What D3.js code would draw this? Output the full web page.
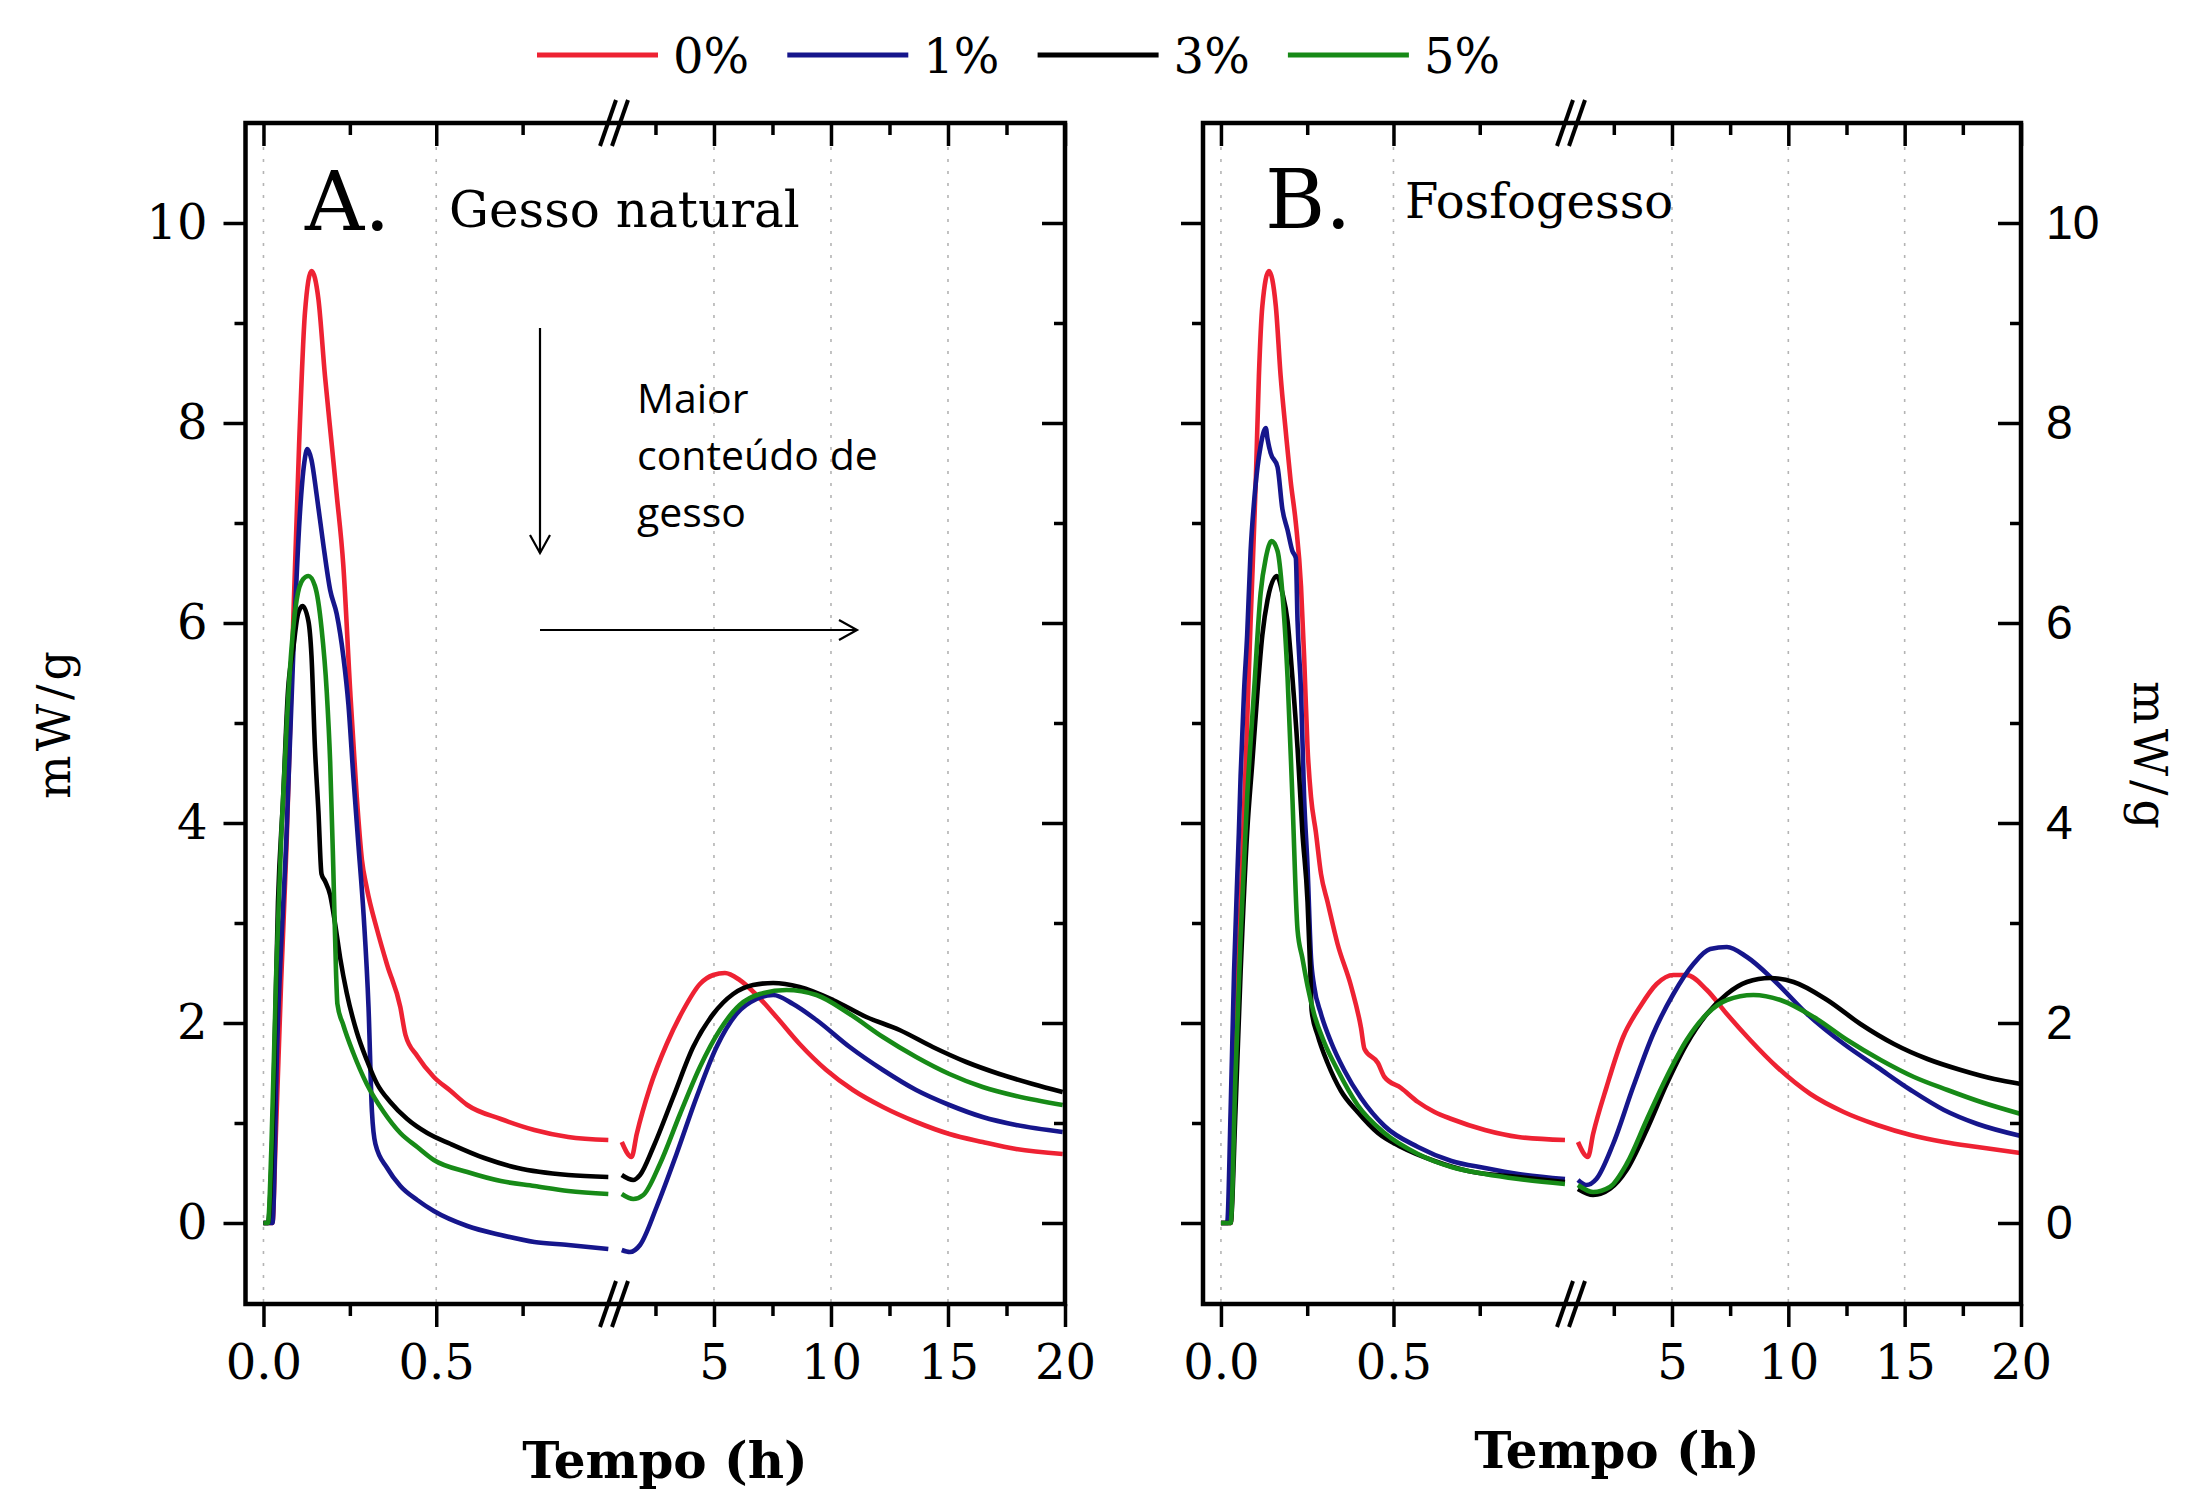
<!DOCTYPE html>
<html>
<head>
<meta charset="utf-8">
<script src="https://cdn.jsdelivr.net/npm/d3@7"></script>
<style>
  body { margin: 0; background: #ffffff; }
  svg { display: block; background: #ffffff; }
</style>
</head>
<body>
<svg id="chart" width="2191" height="1491"></svg>
<script>
// Calorimetry curves: heat flow (mW/g) vs time (h), broken time axis

const seriesNames = ["0%", "1%", "3%", "5%"];

const majorEarly = [0, 0.5];
const minorEarly = [0.25, 0.75];
const majorLate = [5, 10, 15, 20];
const minorLate = [2.5, 7.5, 12.5, 17.5];
const yMajor = [0, 2, 4, 6, 8, 10];
const yMinor = [1, 3, 5, 7, 9];

// A. Gesso natural, first hour  [time h, mW/g]
const natEarly0 = [[0,0],[0.026,0],[0.035,0.8],[0.051,2.4],[0.067,3.8],[0.086,6.0],[0.103,7.77],[0.12,9.1],[0.139,9.52],[0.159,9.24],[0.178,8.47],[0.198,7.77],[0.212,7.28],[0.231,6.58],[0.251,5.32],[0.27,4.26],[0.285,3.63],[0.299,3.35],[0.329,2.93],[0.358,2.58],[0.396,2.16],[0.411,1.88],[0.445,1.67],[0.493,1.46],[0.542,1.32],[0.59,1.18],[0.687,1.04],[0.784,0.93],[0.882,0.86],[0.998,0.83]];
const natEarly1 = [[0,0],[0.026,0],[0.04,1.81],[0.067,3.91],[0.086,5.67],[0.105,7.07],[0.118,7.6],[0.127,7.74],[0.139,7.63],[0.154,7.28],[0.173,6.79],[0.193,6.33],[0.212,6.09],[0.231,5.67],[0.246,5.18],[0.26,4.47],[0.275,3.77],[0.29,3.07],[0.304,2.16],[0.314,1.11],[0.324,0.79],[0.358,0.55],[0.396,0.37],[0.445,0.23],[0.493,0.12],[0.59,-0.03],[0.687,-0.12],[0.784,-0.19],[0.882,-0.22],[0.998,-0.26]];
const natEarly3 = [[0,0],[0.013,0],[0.028,1.11],[0.042,3.21],[0.057,4.26],[0.071,5.32],[0.086,5.74],[0.1,6.09],[0.113,6.17],[0.13,6.02],[0.139,5.67],[0.149,4.75],[0.159,4.12],[0.168,3.49],[0.178,3.42],[0.193,3.28],[0.207,3.0],[0.222,2.65],[0.241,2.3],[0.27,1.91],[0.299,1.63],[0.329,1.39],[0.367,1.21],[0.416,1.04],[0.474,0.9],[0.542,0.79],[0.639,0.65],[0.736,0.55],[0.882,0.48],[0.998,0.46]];
const natEarly5 = [[0,0],[0.013,0],[0.023,0.76],[0.037,2.51],[0.052,3.91],[0.067,4.97],[0.081,5.74],[0.096,6.23],[0.115,6.44],[0.13,6.47],[0.149,6.37],[0.168,5.95],[0.183,5.32],[0.193,4.61],[0.202,3.56],[0.21,2.51],[0.214,2.19],[0.231,1.98],[0.26,1.7],[0.299,1.39],[0.348,1.11],[0.396,0.9],[0.445,0.76],[0.493,0.63],[0.59,0.51],[0.687,0.42],[0.784,0.37],[0.882,0.32],[0.998,0.29]];

// A. Gesso natural, 1 h to 20 h
const natLate0 = [[1.06,0.81],[1.48,0.66],[1.7,0.89],[2.27,1.36],[2.98,1.79],[3.69,2.13],[4.4,2.39],[4.97,2.48],[5.47,2.5],[6.1,2.43],[6.82,2.28],[7.67,2.06],[8.66,1.79],[9.8,1.53],[10.94,1.33],[12.22,1.16],[13.64,1.01],[15.06,0.89],[16.48,0.81],[17.91,0.74],[19.9,0.69]];
const natLate1 = [[1.06,-0.27],[1.41,-0.29],[1.84,-0.22],[2.55,0.16],[3.4,0.69],[4.26,1.26],[5.11,1.76],[5.96,2.09],[6.82,2.24],[7.53,2.28],[8.38,2.19],[9.38,2.03],[10.8,1.76],[12.22,1.53],[13.64,1.33],[15.06,1.18],[16.48,1.06],[17.91,0.98],[19.9,0.91]];
const natLate3 = [[1.06,0.48],[1.55,0.43],[1.84,0.48],[2.41,0.76],[3.26,1.26],[4.11,1.76],[4.97,2.09],[5.82,2.29],[6.67,2.38],[7.53,2.4],[8.66,2.36],[10.09,2.23],[11.51,2.06],[12.93,1.93],[14.35,1.76],[15.78,1.61],[17.2,1.49],[18.62,1.39],[19.9,1.31]];
const natLate5 = [[1.06,0.29],[1.55,0.24],[1.98,0.28],[2.69,0.59],[3.55,1.09],[4.4,1.56],[5.25,1.93],[6.1,2.18],[6.96,2.29],[8.1,2.33],[9.38,2.28],[10.8,2.09],[12.22,1.86],[13.64,1.66],[15.06,1.49],[16.48,1.36],[17.91,1.27],[19.9,1.18]];

// B. Fosfogesso, first hour
const fosEarly0 = [[0,0],[0.028,0],[0.042,1.81],[0.057,3.21],[0.072,4.61],[0.086,6.02],[0.101,7.42],[0.11,8.47],[0.12,9.17],[0.139,9.52],[0.159,9.17],[0.173,8.47],[0.188,7.91],[0.202,7.42],[0.217,7.0],[0.232,6.37],[0.241,5.67],[0.251,4.75],[0.261,4.26],[0.275,3.91],[0.29,3.49],[0.309,3.21],[0.338,2.79],[0.377,2.37],[0.406,1.95],[0.416,1.74],[0.455,1.6],[0.474,1.46],[0.522,1.35],[0.571,1.21],[0.619,1.11],[0.668,1.04],[0.765,0.93],[0.862,0.86],[0.997,0.83]];
const fosEarly1 = [[0,0],[0.018,0],[0.028,1.11],[0.038,2.51],[0.052,3.91],[0.057,4.47],[0.067,5.32],[0.076,5.88],[0.086,6.72],[0.096,7.21],[0.106,7.56],[0.115,7.77],[0.13,7.95],[0.135,7.84],[0.144,7.7],[0.164,7.56],[0.178,7.14],[0.193,6.93],[0.207,6.72],[0.217,6.65],[0.222,6.02],[0.232,5.32],[0.241,4.26],[0.251,3.56],[0.261,2.65],[0.27,2.37],[0.29,2.09],[0.319,1.81],[0.357,1.53],[0.406,1.25],[0.474,0.97],[0.571,0.76],[0.668,0.62],[0.765,0.55],[0.862,0.49],[0.997,0.44]];
const fosEarly3 = [[0,0],[0.028,0],[0.042,1.11],[0.057,2.51],[0.076,3.91],[0.091,4.61],[0.106,5.32],[0.12,5.88],[0.135,6.23],[0.162,6.47],[0.178,6.3],[0.193,6.02],[0.207,5.46],[0.222,4.75],[0.236,3.91],[0.251,3.21],[0.259,2.51],[0.263,2.12],[0.28,1.88],[0.309,1.6],[0.348,1.32],[0.396,1.11],[0.455,0.9],[0.522,0.76],[0.619,0.62],[0.716,0.52],[0.862,0.46],[0.997,0.41]];
const fosEarly5 = [[0,0],[0.028,0],[0.042,1.46],[0.057,2.86],[0.076,4.26],[0.096,5.32],[0.115,6.3],[0.13,6.65],[0.147,6.82],[0.164,6.72],[0.178,6.3],[0.193,5.46],[0.207,4.26],[0.222,2.93],[0.236,2.65],[0.251,2.37],[0.27,2.09],[0.299,1.81],[0.338,1.53],[0.396,1.18],[0.474,0.9],[0.571,0.69],[0.668,0.56],[0.765,0.49],[0.862,0.44],[0.997,0.39]];

// B. Fosfogesso, 1 h to 20 h
const fosLate0 = [[0.96,0.81],[1.39,0.66],[1.61,0.89],[2.19,1.36],[2.9,1.86],[3.62,2.16],[4.34,2.39],[5.06,2.48],[5.63,2.48],[6.5,2.33],[7.36,2.09],[8.36,1.83],[9.51,1.56],[10.95,1.29],[12.38,1.11],[13.82,0.98],[15.26,0.88],[16.69,0.81],[18.13,0.76],[20,0.7]];
const fosLate1 = [[0.96,0.43],[1.32,0.38],[1.75,0.44],[2.47,0.79],[3.33,1.36],[4.19,1.89],[5.06,2.29],[5.92,2.59],[6.64,2.74],[7.36,2.76],[8.22,2.66],[9.37,2.43],[10.81,2.09],[12.39,1.79],[13.82,1.56],[15.26,1.33],[16.69,1.13],[18.13,0.99],[20,0.87]];
const fosLate3 = [[0.96,0.34],[1.61,0.28],[2.33,0.34],[3.05,0.53],[3.91,0.93],[4.77,1.39],[5.63,1.79],[6.5,2.09],[7.36,2.29],[8.22,2.41],[9.22,2.45],[10.23,2.41],[11.67,2.23],[13.1,1.99],[14.54,1.79],[15.98,1.64],[17.41,1.53],[18.85,1.44],[20,1.39]];
const fosLate5 = [[0.96,0.38],[1.61,0.31],[2.33,0.36],[3.05,0.59],[3.91,1.03],[4.77,1.46],[5.63,1.83],[6.5,2.09],[7.36,2.23],[8.5,2.28],[9.66,2.23],[11.09,2.06],[12.53,1.83],[13.97,1.63],[15.4,1.46],[16.84,1.33],[18.28,1.21],[20,1.09]];

const colors = ["#ee2233", "#16168c", "#000000", "#178a17"];
const serif = "'DejaVu Serif', serif";

const svg = d3.select("body").select("svg#chart");

const plotTop = 123;
const plotBottom = 1304;

let yScale = d3.scaleLinear()
  .domain([-0.81, 11])
  .range([plotBottom, plotTop]);

/*
 * Draw one panel with a broken time axis
 */
let drawPanel = function(cfg) {
  const g = svg.append("g").attr("id", cfg.id);

  let xEarly = d3.scaleLinear().domain([-0.052, 1.0]).range([cfg.left, cfg.brk - 5]);
  let xLate = d3.scaleLinear().domain([0.6, 20]).range([cfg.lateStart, cfg.right]);

  // dotted vertical grid
  const grid = g.append("g").attr("class", "grid");
  let gridX = majorEarly.map(d => xEarly(d))
    .concat(majorLate.filter(d => d < 20).map(d => xLate(d)));
  grid.selectAll("line").data(gridX).join("line")
    .attr("x1", d => d).attr("x2", d => d)
    .attr("y1", plotTop).attr("y2", plotBottom)
    .attr("stroke", "#b4b4b4")
    .attr("stroke-width", 1.6)
    .attr("stroke-dasharray", "3,9");

  // curves
  const curves = g.append("g").attr("class", "curves");
  let lineEarly = d3.line().x(d => xEarly(d[0])).y(d => yScale(d[1])).curve(d3.curveMonotoneX);
  let lineLate = d3.line().x(d => xLate(d[0])).y(d => yScale(d[1])).curve(d3.curveMonotoneX);

  cfg.early.forEach(function(s, i) {
    curves.append("path").datum(s)
      .attr("d", lineEarly)
      .attr("fill", "none")
      .attr("stroke", colors[i])
      .attr("stroke-width", 4.6)
      .attr("stroke-linejoin", "round");
  });
  cfg.late.forEach(function(s, i) {
    curves.append("path").datum(s)
      .attr("d", lineLate)
      .attr("fill", "none")
      .attr("stroke", colors[i])
      .attr("stroke-width", 4.6)
      .attr("stroke-linejoin", "round");
  });

  // axes
  const axes = g.append("g").attr("class", "axes");

  let addAxis = function(axis, tx, ty) {
    let a = axes.append("g").attr("transform", translate(tx, ty)).call(axis);
    a.select(".domain").remove();
    a.selectAll(".tick line").attr("stroke", "#000").attr("stroke-width", 3.5);
    return a;
  };

  let bottomE = addAxis(d3.axisBottom(xEarly).tickValues(majorEarly).tickSize(23)
    .tickPadding(18).tickFormat(d3.format(".1f")), 0, plotBottom);
  let bottomL = addAxis(d3.axisBottom(xLate).tickValues(majorLate).tickSize(23)
    .tickPadding(18).tickFormat(d3.format("d")), 0, plotBottom);
  addAxis(d3.axisBottom(xEarly).tickValues(minorEarly).tickSize(12).tickFormat(""), 0, plotBottom);
  addAxis(d3.axisBottom(xLate).tickValues(minorLate).tickSize(12).tickFormat(""), 0, plotBottom);

  addAxis(d3.axisTop(xEarly).tickValues(majorEarly).tickSize(-23).tickFormat(""), 0, plotTop);
  addAxis(d3.axisTop(xLate).tickValues(majorLate).tickSize(-23).tickFormat(""), 0, plotTop);
  addAxis(d3.axisTop(xEarly).tickValues(minorEarly).tickSize(-12).tickFormat(""), 0, plotTop);
  addAxis(d3.axisTop(xLate).tickValues(minorLate).tickSize(-12).tickFormat(""), 0, plotTop);

  let leftA = addAxis(d3.axisLeft(yScale).tickValues(yMajor).tickSize(22).tickPadding(16)
    .tickFormat(cfg.leftLabels ? d3.format("d") : ""), cfg.left, 0);
  addAxis(d3.axisLeft(yScale).tickValues(yMinor).tickSize(11).tickFormat(""), cfg.left, 0);

  let rightA = addAxis(d3.axisRight(yScale).tickValues(yMajor).tickSize(-23).tickPadding(25)
    .tickFormat(cfg.rightLabels ? d3.format("d") : ""), cfg.right, 0);
  addAxis(d3.axisRight(yScale).tickValues(yMinor).tickSize(-11).tickFormat(""), cfg.right, 0);

  [bottomE, bottomL, leftA].forEach(function(a) {
    a.selectAll(".tick text")
      .attr("font-family", serif)
      .attr("font-size", 48)
      .attr("fill", "#000");
  });
  rightA.selectAll(".tick text")
    .attr("font-family", "'Liberation Sans', Arial, sans-serif")
    .attr("font-size", 48)
    .attr("fill", "#000");

  // frame
  axes.append("rect")
    .attr("x", cfg.left).attr("y", plotTop)
    .attr("width", cfg.right - cfg.left)
    .attr("height", plotBottom - plotTop)
    .attr("fill", "none")
    .attr("stroke", "#000")
    .attr("stroke-width", 4.5);

  // break marks
  [plotTop, plotBottom].forEach(function(yy) {
    [-12, 0].forEach(function(off) {
      axes.append("line")
        .attr("x1", cfg.brk + off - 2).attr("y1", yy + 23)
        .attr("x2", cfg.brk + off + 14).attr("y2", yy - 23)
        .attr("stroke", "#000")
        .attr("stroke-width", 4);
    });
  });

  // panel captions
  g.append("text")
    .attr("x", cfg.letterX).attr("y", cfg.letterY)
    .attr("font-family", serif).attr("font-size", 82)
    .text(cfg.letter);
  g.append("text")
    .attr("x", cfg.titleX).attr("y", cfg.titleY)
    .attr("font-family", serif).attr("font-size", cfg.titleSize)
    .text(cfg.title);

  // x axis title
  g.append("text")
    .attr("x", cfg.xTitleX).attr("y", cfg.xTitleY)
    .attr("text-anchor", "middle")
    .attr("font-family", serif).attr("font-size", 50).attr("font-weight", "bold")
    .text("Tempo (h)");

  return {xEarly: xEarly, xLate: xLate};
};

drawPanel({
  id: "panelA", left: 245.5, right: 1065, brk: 614, lateStart: 611,
  leftLabels: true, rightLabels: false,
  letter: "A.", letterX: 305, letterY: 230,
  title: "Gesso natural", titleX: 449, titleY: 227, titleSize: 50,
  xTitleX: 665, xTitleY: 1478,
  early: [natEarly0, natEarly1, natEarly3, natEarly5],
  late: [natLate0, natLate1, natLate3, natLate5]
});

drawPanel({
  id: "panelB", left: 1203, right: 2021, brk: 1571, lateStart: 1569.6,
  leftLabels: false, rightLabels: true,
  letter: "B.", letterX: 1265, letterY: 228,
  title: "Fosfogesso", titleX: 1405, titleY: 218, titleSize: 48,
  xTitleX: 1617, xTitleY: 1468,
  early: [fosEarly0, fosEarly1, fosEarly3, fosEarly5],
  late: [fosLate0, fosLate1, fosLate3, fosLate5]
});

// y axis titles
svg.append("g").attr("transform", translate(54, 723))
  .append("text")
  .attr("transform", "rotate(-90)")
  .attr("text-anchor", "middle")
  .attr("dominant-baseline", "central")
  .attr("font-family", serif).attr("font-size", 46)
  .attr("letter-spacing", 4)
  .text("mW/g");

svg.append("g").attr("transform", translate(2150, 757))
  .append("text")
  .attr("transform", "rotate(90)")
  .attr("text-anchor", "middle")
  .attr("dominant-baseline", "central")
  .attr("font-family", serif).attr("font-size", 46)
  .attr("letter-spacing", 4)
  .text("mW/g");

// legend
const legend = svg.append("g").attr("id", "legend");
const legendItems = legend.selectAll("g").data(seriesNames).join("g")
  .attr("transform", (d, i) => translate(537 + i * 250.3, 55));
legendItems.append("line")
  .attr("x1", 0).attr("x2", 121).attr("y1", 0).attr("y2", 0)
  .attr("stroke", (d, i) => colors[i])
  .attr("stroke-width", 5);
legendItems.append("text")
  .attr("x", 136).attr("y", 18)
  .attr("font-family", serif).attr("font-size", 48)
  .text(d => d);

// annotation in panel A
const note = svg.append("g").attr("id", "note")
  .attr("stroke", "#000").attr("stroke-width", 2.2).attr("fill", "none");
note.append("line").attr("x1", 540).attr("y1", 328).attr("x2", 540).attr("y2", 553);
note.append("path").attr("d", "M530,535 L540,553 L550,535");
note.append("line").attr("x1", 540).attr("y1", 630).attr("x2", 857).attr("y2", 630);
note.append("path").attr("d", "M839,620 L857,630 L839,640");

const noteText = svg.append("text")
  .attr("font-family", "'Open Sans', sans-serif")
  .attr("font-size", 41)
  .attr("fill", "#000");
["Maior", "conteúdo de", "gesso"].forEach(function(t, i) {
  noteText.append("tspan").attr("x", 637).attr("y", 413 + i * 57).text(t);
});

/*
 * returns a translate string for the transform attribute
 */
function translate(x, y) {
  return 'translate(' + String(x) + ',' + String(y) + ')';
}
</script>
</body>
</html>
